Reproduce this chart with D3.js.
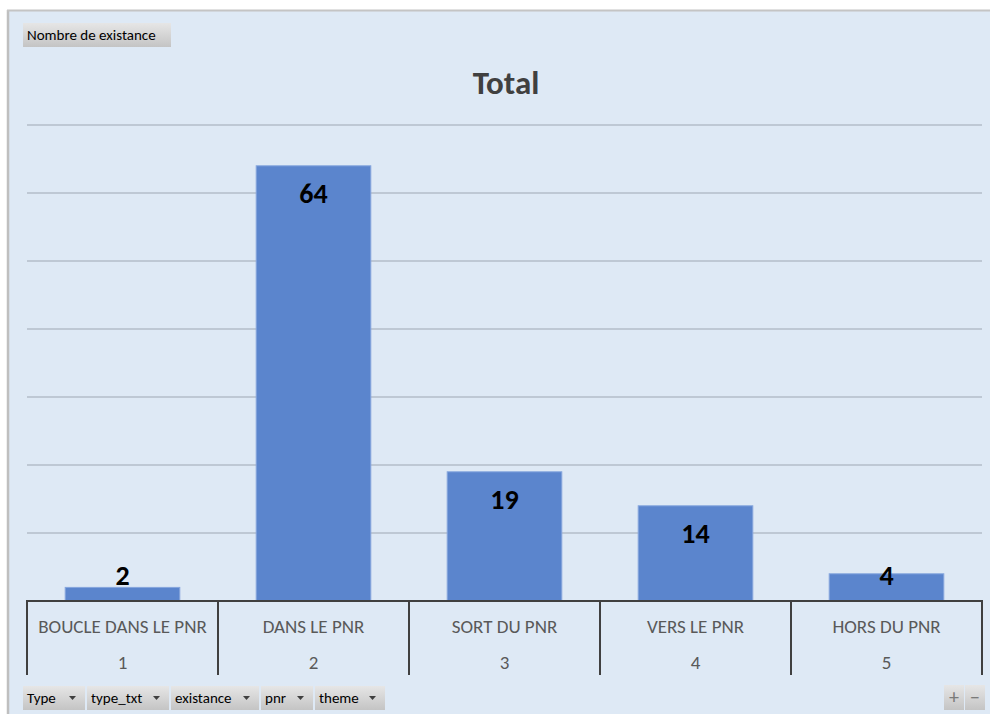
<!DOCTYPE html>
<html>
<head>
<meta charset="utf-8">
<script src="https://cdn.jsdelivr.net/npm/d3@7"></script>
<style>
  html, body { margin: 0; padding: 0; background: #ffffff; }
  svg { display: block; font-family: Carlito, Calibri, Lato, "Liberation Sans", sans-serif; }
</style>
</head>
<body>
<svg id="chart" width="990" height="714"></svg>
<script>
// Pivot chart data: count of "existance" by type
const categories = ["BOUCLE DANS LE PNR", "DANS LE PNR", "SORT DU PNR", "VERS LE PNR", "HORS DU PNR"];
const typeCodes = ["1", "2", "3", "4", "5"];
const values = [2, 64, 19, 14, 4];
const yTicks = [0, 10, 20, 30, 40, 50, 60, 70];
const fieldButtons = ["Type", "type_txt", "existance", "pnr", "theme"];
const valueButton = "Nombre de existance";
const title = "Total";

const svg = d3.select("#chart");
const W = 990, H = 714;

// gradient for pivot field buttons
const defs = svg.append("defs");
const grad = defs.append("linearGradient").attr("id", "btnGrad").attr("x1", 0).attr("y1", 0).attr("x2", 0).attr("y2", 1);
grad.append("stop").attr("offset", "0%").attr("stop-color", "#e6e6e6");
grad.append("stop").attr("offset", "100%").attr("stop-color", "#c4c4c4");

// chart area background and border
svg.append("rect").attr("x", 8).attr("y", 11).attr("width", W - 8).attr("height", H - 11)
  .attr("fill", "#dee9f5");
svg.append("line").attr("x1", 8).attr("x2", 8).attr("y1", 10).attr("y2", H)
  .attr("stroke", "#bfbfbf").attr("stroke-width", 2.5);
svg.append("line").attr("x1", 7).attr("x2", W).attr("y1", 10.5).attr("y2", 10.5)
  .attr("stroke", "#c4c4c4").attr("stroke-width", 2);

// scales
const plot = { left: 27, right: 982, top: 125, bottom: 601 };
const x = d3.scaleBand().domain(categories).range([plot.left, plot.right])
  .paddingInner(0.4).paddingOuter(0.2);
const xCell = d3.scaleBand().domain(categories).range([plot.left, plot.right]).padding(0);
const y = d3.scaleLinear().domain([0, 70]).range([plot.bottom, plot.top]);

// gridlines
svg.append("g").selectAll("line").data(yTicks.filter(t => t > 0)).join("line")
  .attr("x1", plot.left).attr("x2", plot.right)
  .attr("y1", d => y(d)).attr("y2", d => y(d))
  .attr("stroke", "#b3bdc8").attr("stroke-width", 1.5);

// title
svg.append("text").attr("x", 506).attr("y", 94).attr("text-anchor", "middle")
  .attr("font-size", 33).attr("font-weight", "bold").attr("fill", "#404040").text(title);

// bars
svg.append("g").selectAll("rect").data(values).join("rect")
  .attr("x", (d, i) => x(categories[i]))
  .attr("width", x.bandwidth())
  .attr("y", d => y(d))
  .attr("height", d => y(0) - y(d))
  .attr("fill", "#5b85cd")
  .attr("stroke", "#86a6dd").attr("stroke-width", 1);

// value labels (inside end, kept above the axis for short bars)
svg.append("g").selectAll("text").data(values).join("text")
  .attr("x", (d, i) => x(categories[i]) + x.bandwidth() / 2)
  .attr("y", d => Math.min(y(d) + 37, plot.bottom - 16))
  .attr("text-anchor", "middle")
  .attr("font-size", 28).attr("font-weight", "bold").attr("fill", "#000000")
  .text(d => d);

// category axis: baseline and cell separators
const axisG = svg.append("g");
axisG.append("line").attr("x1", plot.left - 1).attr("x2", plot.right + 1)
  .attr("y1", plot.bottom).attr("y2", plot.bottom)
  .attr("stroke", "#404040").attr("stroke-width", 2);
const seps = categories.map(c => xCell(c)).concat([plot.right]);
axisG.selectAll("line.sep").data(seps).join("line").attr("class", "sep")
  .attr("x1", d => d).attr("x2", d => d)
  .attr("y1", plot.bottom).attr("y2", 675)
  .attr("stroke", "#404040").attr("stroke-width", 2);
axisG.selectAll("text.cat").data(categories).join("text").attr("class", "cat")
  .attr("x", d => xCell(d) + xCell.bandwidth() / 2).attr("y", 633)
  .attr("text-anchor", "middle").attr("font-size", 19).attr("fill", "#595959")
  .text(d => d);
axisG.selectAll("text.code").data(typeCodes).join("text").attr("class", "code")
  .attr("x", (d, i) => xCell(categories[i]) + xCell.bandwidth() / 2).attr("y", 669)
  .attr("text-anchor", "middle").attr("font-size", 19).attr("fill", "#595959")
  .text(d => d);

// value field button
const vb = svg.append("g");
vb.append("rect").attr("x", 23).attr("y", 23).attr("width", 148).attr("height", 24).attr("fill", "url(#btnGrad)");
vb.append("text").attr("x", 27).attr("y", 40).attr("font-size", 15).attr("fill", "#000").text(valueButton);

// axis field buttons with dropdown arrows
const btnX = [23, 87, 171, 261, 315];
const btnW = [62, 82, 88, 52, 70];
const fb = svg.append("g").selectAll("g").data(fieldButtons).join("g")
  .attr("transform", (d, i) => `translate(${btnX[i]},686)`);
fb.append("rect").attr("width", (d, i) => btnW[i]).attr("height", 24).attr("fill", "url(#btnGrad)");
fb.append("text").attr("x", 4).attr("y", 17).attr("font-size", 15).attr("fill", "#000").text(d => d);
fb.append("path")
  .attr("d", (d, i) => `M${btnW[i] - 16},10 h7 l-3.5,4 z`)
  .attr("fill", "#404040");

// zoom buttons
const zb = svg.append("g");
[[944, "+"], [965, "\u2212"]].forEach(([bx, s]) => {
  zb.append("rect").attr("x", bx).attr("y", 685).attr("width", 20).attr("height", 25).attr("fill", "url(#btnGrad)");
  zb.append("text").attr("x", bx + 10).attr("y", 704).attr("text-anchor", "middle")
    .attr("font-size", 20).attr("fill", "#7a7a7a").text(s);
});
</script>
</body>
</html>
